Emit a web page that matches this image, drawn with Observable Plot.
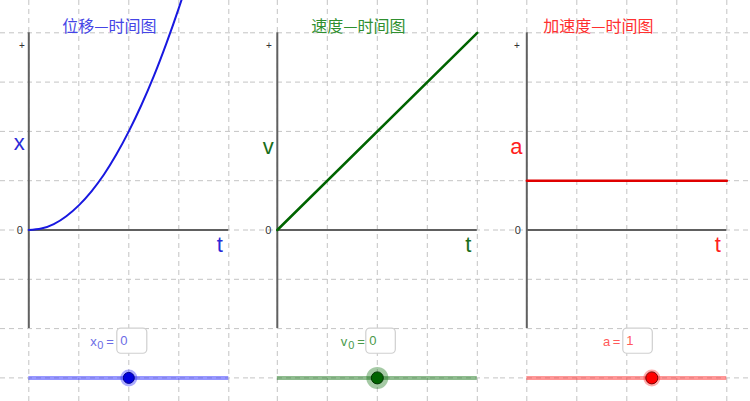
<!DOCTYPE html>
<html>
<head>
<meta charset="utf-8">
<script src="https://cdn.jsdelivr.net/npm/d3@7"></script>
<script src="https://cdn.jsdelivr.net/npm/@observablehq/plot@0.6"></script>
<style>
  html, body { margin: 0; padding: 0; background: #fff; }
  #wrap { display: flex; width: 750px; height: 401px; overflow: hidden; }
  #wrap svg { display: block; flex: none; }
</style>
</head>
<body>
<div id="wrap"></div>
<script>
// ---- data ----
const titles = ["位移—时间图", "速度—时间图", "加速度—时间图"];
const axisNames = ["x", "v", "a"];
const sliderNames = ["x", "v", "a"];
const sliderSubs = ["0", "0", ""];
const sliderValues = [0, 0, 1];
const sliderMin = -4, sliderMax = 4;
const gridT = [-1, 0, 1, 2, 3, 4, 5];
const gridV = [-4, -3, -2, -1, 0, 1, 2, 3, 4, 5];

// displacement curve x(t)
const posT = [0, 0.25, 0.5, 0.75, 1, 1.25, 1.5, 1.75, 2, 2.25, 2.5, 2.75, 3, 3.25];
const posX = [0, 0.03, 0.12, 0.28, 0.5, 0.78, 1.12, 1.53, 2, 2.53, 3.12, 3.78, 4.5, 5.28];
// velocity line v(t)
const velT = [0, 4];
const velV = [0, 4];
// acceleration line a(t)
const accT = [0, 4];
const accA = [1, 1];

// ---- styles ----
const styles = [
  {title: "#4545e6", curve: "#1818e0", label: "#2a2ad8", slider: "#6c6ce6", track: "#3030ff", knob: "#0000dd", knobStroke: "#00008a", halo: "#3030ff", haloR: 8.5, knobR: 5.5, width: 2},
  {title: "#2f8f2f", curve: "#006400", label: "#1a6e1a", slider: "#4a9a4a", track: "#1f7a1f", knob: "#006400", knobStroke: "#003300", halo: "#1f7a1f", haloR: 11, knobR: 6, width: 2.5},
  {title: "#ff3030", curve: "#e00000", label: "#ff2020", slider: "#ff5a5a", track: "#ff3030", knob: "#ff0000", knobStroke: "#7a0000", halo: "#ff3030", haloR: 8.5, knobR: 6, width: 2.5}
];
const layout = [
  {ox: 28.3, titleT: 0.67, axisT: -0.19, axisV: 1.76, labelEnd: 1.70, subDx: -10.5, nameDx: -17, box: [1.77, 2.37], valT: 1.83, plusT: -0.14, zeroT: -0.18},
  {ox: 26.8, titleT: 0.68, axisT: -0.18, axisV: 1.68, labelEnd: 1.75, subDx: -10.5, nameDx: -17.5, box: [1.78, 2.37], valT: 1.84, plusT: -0.17, zeroT: -0.18},
  {ox: 26.3, titleT: 0.33, axisT: -0.21, axisV: 1.69, labelEnd: 1.87, subDx: 0, nameDx: -10, box: [1.93, 2.52], valT: 1.99, plusT: -0.20, zeroT: -0.18}
];
const W = 250, H = 401, ux = 50, uy = 49.3, oy = 229.5;
const sans = "'Liberation Sans', Arial, sans-serif";
const cjk = "'Noto Sans CJK SC', sans-serif";

const series = [
  posT.map((t, i) => ({t, v: posX[i]})),
  velT.map((t, i) => ({t, v: velV[i]})),
  accT.map((t, i) => ({t, v: accA[i]}))
];

const wrap = document.getElementById("wrap");
for (let k = 0; k < 3; k++) {
  const s = styles[k], L = layout[k];
  const xDom = [(0 - L.ox) / ux, (W - L.ox) / ux];
  const yDom = [(oy - H) / uy, oy / uy];
  const knobT = (sliderValues[k] - sliderMin) / (sliderMax - sliderMin) * 4;
  const chart = Plot.plot({
    width: W, height: H,
    marginTop: 0, marginRight: 0, marginBottom: 0, marginLeft: 0,
    x: {domain: xDom, range: [0, W], axis: null},
    y: {domain: yDom, range: [H, 0], axis: null},
    style: {background: "#fff", fontFamily: sans, overflow: "hidden"},
    marks: [
      // dashed grid
      Plot.ruleX(gridT, {stroke: "#c4c4c4", strokeWidth: 1, strokeDasharray: "5,4"}),
      Plot.ruleY(gridV, {stroke: "#c4c4c4", strokeWidth: 1, strokeDasharray: "5,4"}),
      // axes
      Plot.ruleX([0], {y1: -2, y2: 4, stroke: "#606060", strokeWidth: 2}),
      Plot.ruleY([0], {x1: 0, x2: 4, stroke: "#606060", strokeWidth: 2}),
      // tick labels
      Plot.text(["0"], {x: L.zeroT, y: -0.01, text: d => d, fill: "#333", fontSize: 11, textAnchor: "middle", lineAnchor: "middle"}),
      Plot.text(["+"], {x: L.plusT, y: 3.74, text: d => d, fill: "#333", fontSize: 10, textAnchor: "middle", lineAnchor: "middle"}),
      // series
      Plot.line(series[k], {x: "t", y: "v", stroke: s.curve, strokeWidth: s.width, curve: "natural", clip: true}),
      // title and axis names
      Plot.text([titles[k]], {x: L.titleT, y: 4.12, text: d => d, fill: s.title, fontSize: 16, fontFamily: cjk, textAnchor: "start", lineAnchor: "middle"}),
      Plot.text([axisNames[k]], {x: L.axisT, y: L.axisV, text: d => d, fill: s.label, fontSize: 22, textAnchor: "middle", lineAnchor: "middle"}),
      Plot.text(["t"], {x: 3.82, y: -0.3, text: d => d, fill: s.label, fontSize: 22, textAnchor: "middle", lineAnchor: "middle"}),
      // slider
      Plot.ruleY([-3], {x1: 0, x2: 4, stroke: s.track, strokeOpacity: 0.5, strokeWidth: 4}),
      Plot.dot([knobT], {x: d => d, y: -3, r: s.haloR, fill: s.halo, fillOpacity: 0.4, stroke: "none"}),
      Plot.dot([knobT], {x: d => d, y: -3, r: s.knobR, fill: s.knob, stroke: s.knobStroke, strokeWidth: 1}),
      // slider caption and input box
      Plot.rect([sliderValues[k]], {x1: L.box[0], x2: L.box[1], y1: -2.0, y2: -2.51, fill: "#fff", stroke: "#cfcfcf", strokeWidth: 1.2, rx: 4}),
      Plot.text(["="], {x: L.labelEnd, y: -2.27, text: d => d, fill: s.slider, fontSize: 13, textAnchor: "end", lineAnchor: "middle"}),
      Plot.text([sliderSubs[k]], {x: L.labelEnd, y: -2.27, dx: L.subDx, dy: 4, text: d => d, fill: s.slider, fontSize: 11, textAnchor: "end", lineAnchor: "middle"}),
      Plot.text([sliderNames[k]], {x: L.labelEnd, y: -2.27, dx: L.nameDx, text: d => d, fill: s.slider, fontSize: 13, textAnchor: "end", lineAnchor: "middle"}),
      Plot.text([String(sliderValues[k])], {x: L.valT, y: -2.25, text: d => d, fill: s.slider, fontSize: 13, textAnchor: "start", lineAnchor: "middle"})
    ]
  });
  wrap.appendChild(chart);
}
</script>
</body>
</html>
